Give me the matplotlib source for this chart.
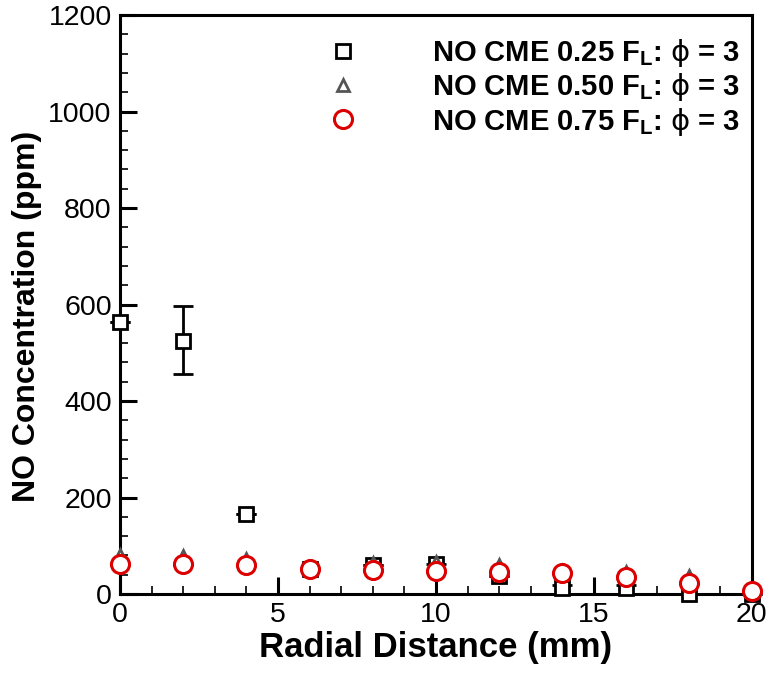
import matplotlib
matplotlib.use("Agg")
import matplotlib.pyplot as plt
from matplotlib.ticker import MultipleLocator
from matplotlib.lines import Line2D

plt.rcParams['font.family'] = ['Liberation Sans', 'DejaVu Sans']
plt.rcParams['mathtext.fontset'] = 'custom'
plt.rcParams['mathtext.rm'] = 'DejaVu Sans'
plt.rcParams['mathtext.bf'] = 'Liberation Sans:bold'
plt.rcParams['mathtext.it'] = 'Liberation Sans:bold'
plt.rcParams['mathtext.fallback'] = 'stixsans'

radial_mm = [0, 2, 4, 6, 8, 10, 12, 14, 16, 18, 20]

no_025 = [564, 524, 166, 52, 60, 63, 38, 13, 12, 1, 0]
no_025_err_lo = [0, 68, 0, 0, 0, 63, 0, 13, 12, 0, 0]
no_025_err_hi = [0, 72, 0, 0, 0, 0, 0, 6, 6, 0, 0]
no_050 = [80, 78, 73, 52, 64, 66, 60, 47, 46, 38, 8]
no_075 = [62, 62, 60, 52, 50, 48, 46, 43, 36, 23, 6]

labels = [r"NO CME 0.25 F$_\mathbf{L}$: $\mathrm{\phi}$ = 3",
          r"NO CME 0.50 F$_\mathbf{L}$: $\mathrm{\phi}$ = 3",
          r"NO CME 0.75 F$_\mathbf{L}$: $\mathrm{\phi}$ = 3"]

fig = plt.figure(figsize=(7.72, 6.77), dpi=100)
ax = fig.add_axes([0.1554, 0.1226, 0.8186, 0.8552])

sq = dict(marker='s', ms=9.5, mfc='white', mec='black', mew=2, linestyle='none')
tri = dict(marker='^', ms=9, mfc='white', mec='#555555', mew=2, linestyle='none')
circ = dict(marker='o', ms=13, mfc='white', mec='#dd0000', mew=2.2, linestyle='none')

ax.errorbar(radial_mm, no_025, yerr=[no_025_err_lo, no_025_err_hi], fmt='none',
            ecolor='black', elinewidth=2, capsize=7, capthick=2, zorder=2,
            clip_on=False)
ax.plot(radial_mm, no_025, zorder=3, clip_on=False, **sq)
ax.plot(radial_mm, no_050, zorder=4, clip_on=False, **tri)
ax.plot(radial_mm, no_075, zorder=5, clip_on=False, **circ)

ax.set_xlim(0, 20)
ax.set_ylim(0, 1200)
ax.xaxis.set_major_locator(MultipleLocator(5))
ax.xaxis.set_minor_locator(MultipleLocator(1))
ax.yaxis.set_major_locator(MultipleLocator(200))
ax.yaxis.set_minor_locator(MultipleLocator(40))

ax.tick_params(which='major', direction='in', length=12, width=2.2,
               labelsize=20.5, top=False, right=False)
ax.tick_params(axis='x', which='major', pad=6)
ax.tick_params(axis='y', which='major', pad=6)
ax.tick_params(which='minor', direction='in', length=6, width=1.2,
               top=False, right=False)
for s in ax.spines.values():
    s.set_linewidth(2.2)

ax.set_xlabel("Radial Distance (mm)", fontsize=25, fontweight='bold', labelpad=2)
ax.set_ylabel("NO Concentration (ppm)", fontsize=23, fontweight='bold')
ax.yaxis.set_label_coords(-0.123, 0.48)

handles = [Line2D([], [], **sq), Line2D([], [], **tri), Line2D([], [], **circ)]
leg = ax.legend(handles, labels, loc='upper right', bbox_to_anchor=(1.02, 1.005),
                frameon=False, prop={'size': 21, 'weight': 'bold'},
                handletextpad=2.55, handlelength=1.0, labelspacing=0.08,
                borderaxespad=0.45)

fig.savefig("out.png", dpi=100)
